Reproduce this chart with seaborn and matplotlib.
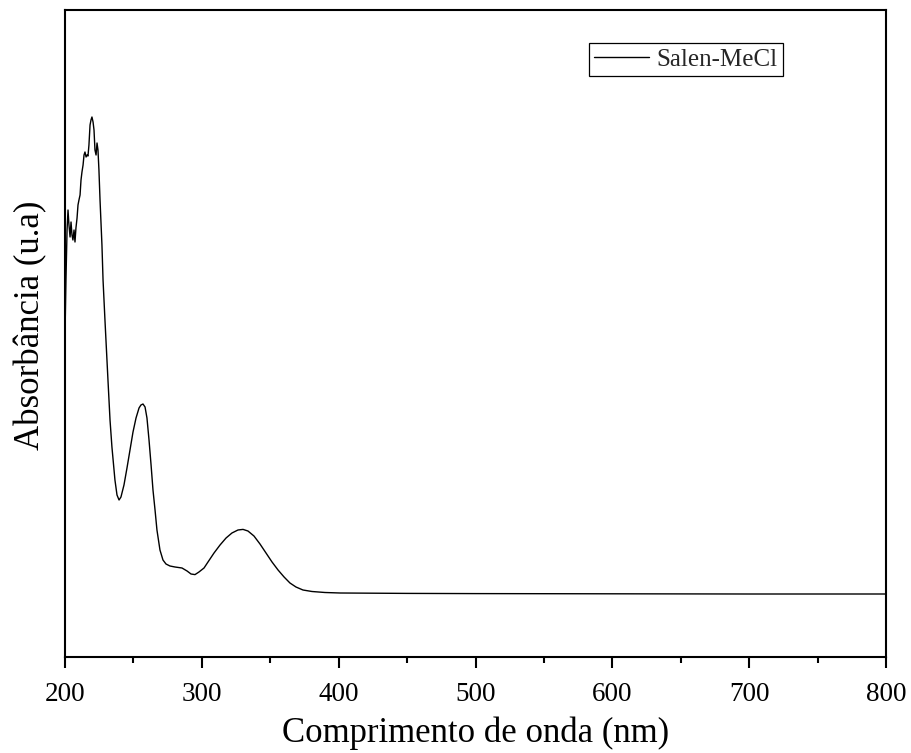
import matplotlib
matplotlib.use("Agg")
import matplotlib.pyplot as plt
from matplotlib.ticker import MultipleLocator
import seaborn as sns
import pandas as pd

wavelength = [200.0, 200.7, 201.5, 202.2, 202.9, 203.7, 204.4, 205.1, 205.8, 206.6,
              207.3, 208.0, 208.8, 209.5, 210.2, 211.0, 211.7, 212.4, 213.2, 213.9,
              214.6, 215.4, 216.1, 216.8, 217.5, 218.3, 219.0, 219.7, 220.5, 221.2,
              221.9, 222.7, 223.4, 224.1, 224.8, 225.6, 227.0, 227.8, 229.2, 231.4,
              232.9, 234.3, 236.5, 238.0, 239.5, 240.9, 243.1, 245.3, 247.5, 249.7,
              251.9, 254.1, 255.5, 257.0, 258.5, 259.9, 261.4, 262.9, 264.3, 265.8,
              267.2, 269.4, 271.6, 273.8, 276.7, 280.4, 285.5, 289.2, 292.1, 295.0,
              297.9, 301.6, 304.5, 308.9, 313.3, 317.7, 322.0, 326.4, 330.1, 333.7,
              338.1, 342.5, 346.9, 351.3, 355.7, 360.1, 364.4, 368.8, 373.9, 380.5,
              390.0, 401.0, 450.0, 500.0, 600.0, 700.0, 800.0]
absorbance = [0.805, 0.9425, 1.0675, 1.1175, 1.08, 1.05, 1.0875, 1.055, 1.0425, 1.0675,
              1.0375, 1.0725, 1.0975, 1.13, 1.1425, 1.155, 1.1925, 1.2125, 1.23, 1.255,
              1.2625, 1.25, 1.255, 1.2525, 1.28, 1.33, 1.3425, 1.35, 1.3375, 1.3175,
              1.2675, 1.255, 1.285, 1.2675, 1.2175, 1.1425, 1.03, 0.9425, 0.8425, 0.6925,
              0.5925, 0.525, 0.4425, 0.405, 0.3925, 0.40, 0.43, 0.4725, 0.5175, 0.5625,
              0.5975, 0.6225, 0.63, 0.6325, 0.625, 0.5975, 0.5425, 0.48, 0.4175, 0.3675,
              0.3175, 0.2675, 0.2425, 0.2325, 0.2275, 0.225, 0.2225, 0.215, 0.2075, 0.206,
              0.2125, 0.2225, 0.2375, 0.26, 0.28, 0.2975, 0.31, 0.3175, 0.319, 0.315,
              0.3025, 0.2825, 0.26, 0.2375, 0.2175, 0.20, 0.185, 0.175, 0.1675, 0.16375,
              0.16125, 0.16, 0.159, 0.1585, 0.158, 0.1575, 0.1575]
series_name = "Salen-MeCl"
x_ticks = [200, 300, 400, 500, 600, 700, 800]

df = pd.DataFrame({"wavelength": wavelength, "absorbance": absorbance, "series": series_name})

sns.set_theme(style="white")
plt.rcParams['font.family'] = ['Liberation Serif', 'DejaVu Serif']
plt.rcParams['mathtext.fontset'] = 'stix'

fig = plt.figure(figsize=(9.12, 7.53), dpi=100)
ax = fig.add_axes([65/912, 1 - 657/753, 821/912, 647/753])

sns.lineplot(data=df, x="wavelength", y="absorbance", hue="series",
             palette=["black"], linewidth=1.0, ax=ax, legend=True)

ax.set_xlim(200, 800)
ax.set_ylim(0, 647/400)
ax.set_xticks(x_ticks)
ax.set_xticklabels([str(t) for t in x_ticks])
ax.xaxis.set_minor_locator(MultipleLocator(50))
ax.set_yticks([])
ax.tick_params(axis='x', which='major', direction='out', length=8, width=1.5,
               labelsize=19.5, color='black', labelcolor='black', pad=10, bottom=True)
ax.tick_params(axis='x', which='minor', direction='out', length=4, width=1.5,
               color='black', bottom=True)

for s in ax.spines.values():
    s.set_color('black')
    s.set_linewidth(1.5)

ax.set_xlabel("Comprimento de onda (nm)", fontsize=25, color='black', labelpad=7)
ax.set_ylabel("Absorbância (u.a)", fontsize=25, color='black')
ax.yaxis.set_label_coords(-0.021, 0.513)

leg = ax.legend(loc='upper right', bbox_to_anchor=((783-65)/821, (657-43)/647),
                frameon=True, fancybox=False, framealpha=1, edgecolor='black',
                fontsize=18, handlelength=2.2, borderpad=0.2, handletextpad=0.3,
                borderaxespad=0)
leg.get_frame().set_linewidth(0.9)

fig.savefig("out.png", dpi=100)
